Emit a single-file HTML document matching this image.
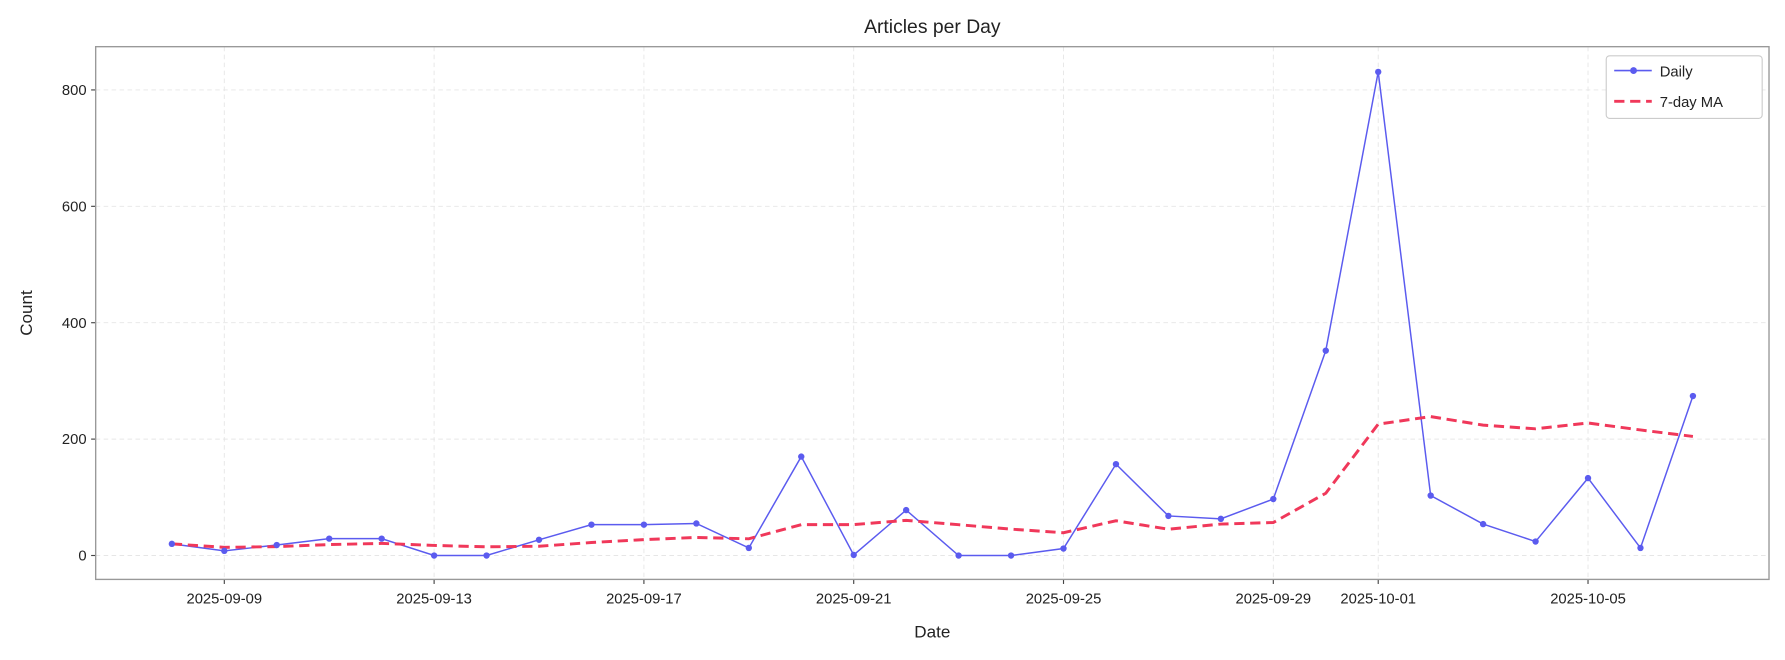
<!DOCTYPE html>
<html><head><meta charset="utf-8"><style>
html,body{margin:0;padding:0;background:#fff;}
svg{display:block;font-family:"Liberation Sans","NanumGothic","DejaVu Sans",sans-serif;}
</style></head><body>
<svg id="chart" width="1785" height="660" viewBox="0 0 1568 579.8" xmlns="http://www.w3.org/2000/svg">
<rect width="1568" height="580" fill="#fff"/>
<text x="819" y="29" font-size="17" text-anchor="middle" fill="#222">Articles per Day</text>
<g id="grid"></g>
<g id="axes"></g>
<g id="series"></g>
<rect x="84" y="41" width="1470" height="468" fill="none" stroke="#999" stroke-width="1.2"/>
<text x="819" y="560" font-size="15" text-anchor="middle" fill="#222">Date</text>
<text transform="translate(28,275) rotate(-90)" font-size="15" text-anchor="middle" fill="#222">Count</text>
<g>
<rect x="1411" y="49" width="137" height="55" rx="3" fill="#fff" stroke="#ccc"/>
<line x1="1418" y1="62" x2="1451" y2="62" stroke="#5b5bef" stroke-width="1.4"/>
<circle cx="1435" cy="62" r="3" fill="#5b5bef"/>
<text x="1458" y="67" font-size="13" fill="#222">Daily</text>
<line x1="1418" y1="89" x2="1451" y2="89" stroke="#f0385a" stroke-width="2.6" stroke-dasharray="9,5"/>
<text x="1458" y="94" font-size="13" fill="#222">7-day MA</text>
</g>
</svg>
<script>
const dates = ["2025-09-08","2025-09-09","2025-09-10","2025-09-11","2025-09-12","2025-09-13","2025-09-14","2025-09-15","2025-09-16","2025-09-17","2025-09-18","2025-09-19","2025-09-20","2025-09-21","2025-09-22","2025-09-23","2025-09-24","2025-09-25","2025-09-26","2025-09-27","2025-09-28","2025-09-29","2025-09-30","2025-10-01","2025-10-02","2025-10-03","2025-10-04","2025-10-05","2025-10-06","2025-10-07"];
const daily = [20,8,18,29,29,0,0,27,53,53,55,13,170,1,78,0,0,12,157,68,63,97,352,831,103,54,24,133,13,274];
const ma7 = [20,14,15.3,18.8,20.8,17.3,14.9,15.9,22.3,27.3,31,28.7,53,53.1,60.4,52.9,45.3,39.1,59.7,45.1,54,56.7,107,225.7,238.7,224,217.7,227.7,215.7,204.6];
const xTicks = ["2025-09-09","2025-09-13","2025-09-17","2025-09-21","2025-09-25","2025-09-29","2025-10-01","2025-10-05"];
const yTicks = [0,200,400,600,800];

const NS="http://www.w3.org/2000/svg";
const day0 = Date.parse("2025-09-09");
function xs(d){ return 197 + (Date.parse(d)-day0)/86400000*46.077; }
function ys(v){ return 488 - v*0.51125; }
function mk(tag, attrs, parent){ const e=document.createElementNS(NS,tag); for(const k in attrs) e.setAttribute(k,attrs[k]); parent.appendChild(e); return e; }
const grid=document.getElementById('grid'), axes=document.getElementById('axes'), series=document.getElementById('series');
yTicks.forEach(v=>{
  const y=ys(v);
  const g=mk('line',{x1:84,x2:1554,y1:y,y2:y,stroke:'#e6e6e6','stroke-dasharray':'4,3','stroke-width':0.8},grid);
  
  
  mk('line',{x1:80,x2:84,y1:y,y2:y,stroke:'#444'},axes);
  const t=mk('text',{x:76,y:y+4.5,'font-size':13,'text-anchor':'end',fill:'#222'},axes);
  t.textContent=v;
  
  
});
xTicks.forEach(d=>{
  const x=xs(d);
  const g=mk('line',{x1:x,x2:x,y1:41,y2:509,stroke:'#e6e6e6','stroke-dasharray':'4,3','stroke-width':0.8},grid);
  
  
  mk('line',{x1:x,x2:x,y1:509,y2:513,stroke:'#444'},axes);
  const t=mk('text',{x:x,y:530,'font-size':13,'text-anchor':'middle',fill:'#222'},axes);
  t.textContent=d;
  
  
});
const pd=daily.map((v,i)=>xs(dates[i]).toFixed(2)+','+ys(v).toFixed(2)).join(' ');
const l1=mk('polyline',{points:pd,fill:'none',stroke:'#5b5bef','stroke-width':1.3},series);


const pm=ma7.map((v,i)=>xs(dates[i]).toFixed(2)+','+ys(v).toFixed(2)).join(' ');
const l2=mk('polyline',{points:pm,fill:'none',stroke:'#f0385a','stroke-width':2.6,'stroke-dasharray':'9,5'},series);


daily.forEach((v,i)=>{
  const c=mk('circle',{cx:xs(dates[i]),cy:ys(v),r:2.8,fill:'#5b5bef'},series);
  
  
});
</script>
</body></html>
